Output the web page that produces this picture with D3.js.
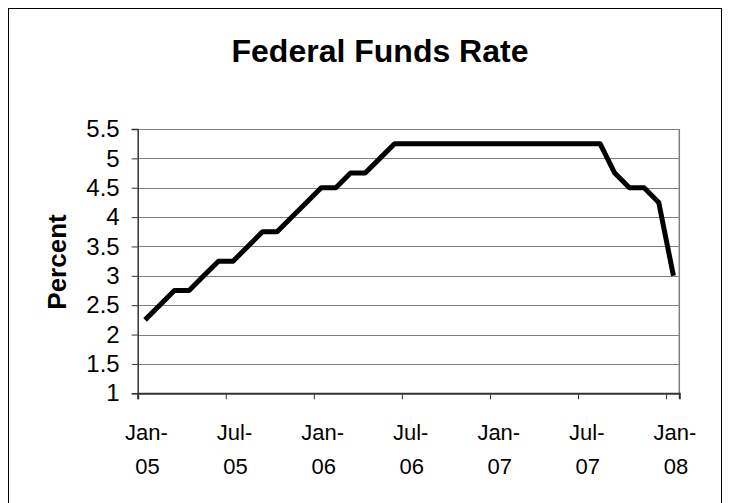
<html>
<head>
<script src="https://cdnjs.cloudflare.com/ajax/libs/d3/7.8.5/d3.min.js"></script>
<style>
  body { margin: 0; background: white; }
  text { font-family: "Liberation Sans", Arial, sans-serif; }
</style>
</head>
<body></body>
<script>
// monthly federal funds rate, Jan-05 .. Jan-08
var months = ["Jan-05","Feb-05","Mar-05","Apr-05","May-05","Jun-05","Jul-05","Aug-05","Sep-05","Oct-05","Nov-05","Dec-05",
  "Jan-06","Feb-06","Mar-06","Apr-06","May-06","Jun-06","Jul-06","Aug-06","Sep-06","Oct-06","Nov-06","Dec-06",
  "Jan-07","Feb-07","Mar-07","Apr-07","May-07","Jun-07","Jul-07","Aug-07","Sep-07","Oct-07","Nov-07","Dec-07",
  "Jan-08"];
var rates = [2.25, 2.5, 2.75, 2.75, 3.0, 3.25, 3.25, 3.5, 3.75, 3.75, 4.0, 4.25,
  4.5, 4.5, 4.75, 4.75, 5.0, 5.25, 5.25, 5.25, 5.25, 5.25, 5.25, 5.25,
  5.25, 5.25, 5.25, 5.25, 5.25, 5.25, 5.25, 5.25, 4.75, 4.5, 4.5, 4.25,
  3.0];
var xTickLabels = ["Jan-05","Jul-05","Jan-06","Jul-06","Jan-07","Jul-07","Jan-08"];
var yTicks = [1, 1.5, 2, 2.5, 3, 3.5, 4, 4.5, 5, 5.5];

var width = 730, height = 503;
var plot = {left: 137.7, right: 679.3, top: 129, bottom: 393.3};

var svg = d3.select("body").append("svg")
  .attr("width", width)
  .attr("height", height);

// outer chart frame
svg.append("rect")
  .attr("x", 8.5).attr("y", 8.5)
  .attr("width", 713).attr("height", 500)
  .attr("fill", "white")
  .attr("stroke", "#000").attr("stroke-width", 1);

var x = d3.scaleLinear().domain([0, 36.9]).range([plot.left, plot.right]);
var y = d3.scaleLinear().domain([1, 5.5]).range([plot.bottom, plot.top]);

// gridlines
svg.append("g").selectAll("line")
  .data(yTicks.slice(1))
  .enter().append("line")
  .attr("x1", plot.left).attr("x2", plot.right)
  .attr("y1", function(d) { return Math.round(y(d)) + 0.5; })
  .attr("y2", function(d) { return Math.round(y(d)) + 0.5; })
  .attr("stroke", "#808080").attr("stroke-width", 1);

// right border of plot area
svg.append("line")
  .attr("x1", plot.right).attr("x2", plot.right)
  .attr("y1", plot.top).attr("y2", plot.bottom)
  .attr("stroke", "#808080").attr("stroke-width", 1.5);

// y axis
var yAxis = d3.axisLeft(y).tickValues(yTicks).tickSize(6).tickPadding(12)
  .tickFormat(function(d) { return String(d); });
var gy = svg.append("g")
  .attr("transform", "translate(" + plot.left + ",0)")
  .call(yAxis);
gy.select(".domain").attr("stroke", "#333").attr("stroke-width", 1.5);
gy.selectAll(".tick line").attr("stroke", "#333");
gy.selectAll(".tick text")
  .attr("font-size", "24px")
  .attr("font-family", "Liberation Sans, Arial, sans-serif")
  .attr("fill", "#000");

// x axis
var tickIdx = xTickLabels.map(function(l) { return months.indexOf(l); });
var xAxis = d3.axisBottom(x).tickValues(tickIdx).tickSize(6).tickFormat("");
var gx = svg.append("g")
  .attr("transform", "translate(0," + plot.bottom + ")")
  .call(xAxis);
gx.select(".domain").attr("stroke", "#333").attr("stroke-width", 2);
gx.selectAll(".tick line").attr("stroke", "#333");

// x labels: two lines, centred in the month
var xl = svg.append("g").selectAll("text")
  .data(xTickLabels)
  .enter().append("text")
  .attr("text-anchor", "middle")
  .attr("font-size", "22px")
  .attr("fill", "#000")
  .attr("transform", function(d) { return "translate(" + (x(months.indexOf(d) + 0.6)) + ",0)"; });
xl.append("tspan").attr("x", 0).attr("y", 440)
  .text(function(d) { return d.split("-")[0] + "-"; });
xl.append("tspan").attr("x", 1).attr("y", 474)
  .text(function(d) { return d.split("-")[1]; });

// line
var line = d3.line()
  .x(function(d, i) { return x(i + 0.5); })
  .y(function(d) { return y(d); });
svg.append("path")
  .datum(rates)
  .attr("d", line)
  .attr("fill", "none")
  .attr("stroke", "#000")
  .attr("stroke-width", 5)
  .attr("stroke-linejoin", "round");

// title
svg.append("text")
  .attr("x", 380).attr("y", 62)
  .attr("text-anchor", "middle")
  .attr("font-size", "32px")
  .attr("font-weight", "bold")
  .text("Federal Funds Rate");

// y axis title
svg.append("text")
  .attr("transform", "translate(66,262) rotate(-90)")
  .attr("text-anchor", "middle")
  .attr("font-size", "26px")
  .attr("font-weight", "bold")
  .text("Percent");
</script>
</html>
